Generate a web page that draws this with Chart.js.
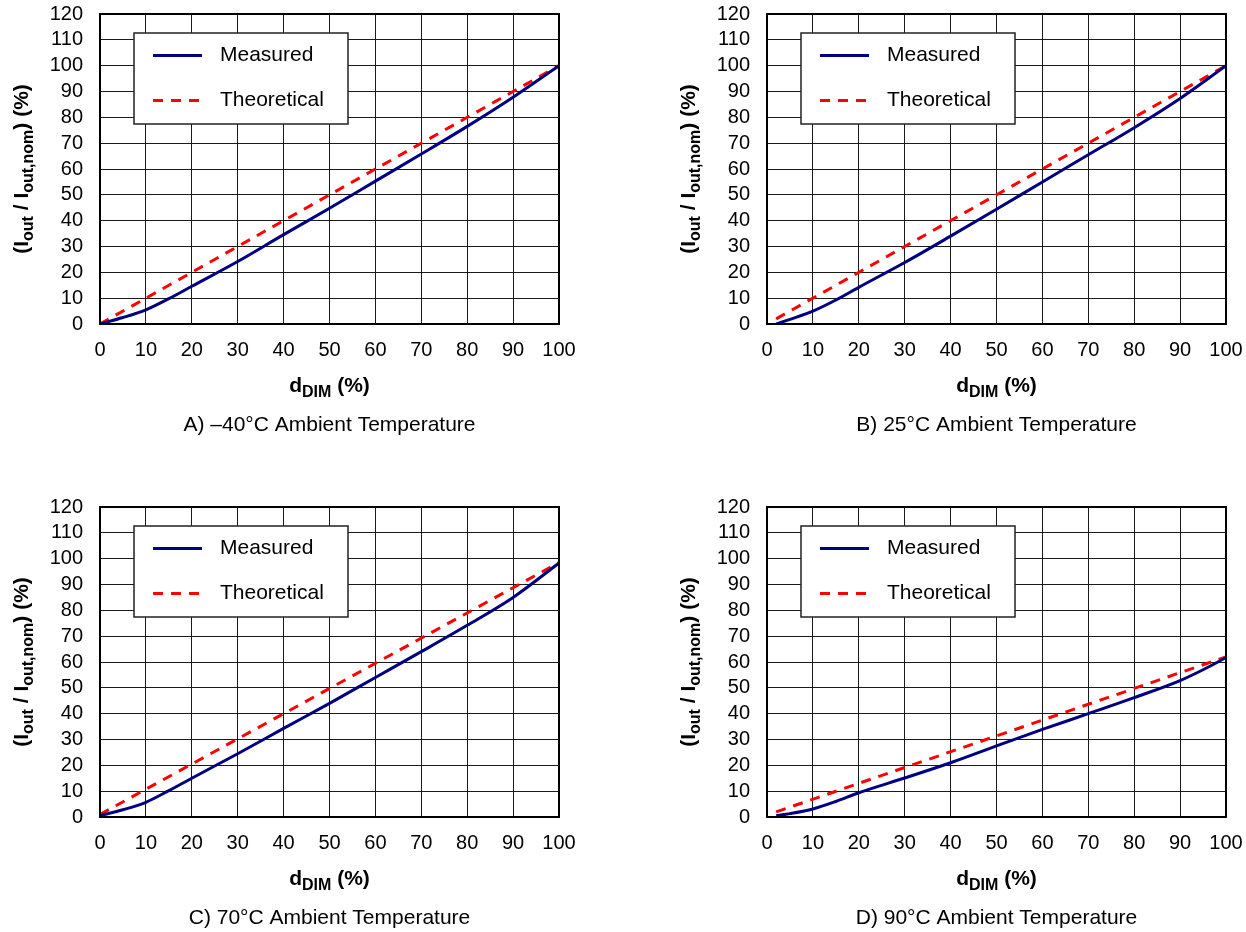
<!DOCTYPE html>
<html><head><meta charset="utf-8">
<script src="https://cdn.jsdelivr.net/npm/chart.js@4.4.0/dist/chart.umd.min.js"></script>
<style>
html,body{margin:0;padding:0;background:#fff;}
body{width:1246px;height:932px;position:relative;overflow:hidden;}
.panel{position:absolute;width:580px;height:466px;}
.panel canvas{display:block;}
</style></head><body>
<div class="panel" style="left:0;top:0"><canvas id="cA" width="580" height="466"></canvas></div>
<div class="panel" style="left:667px;top:0"><canvas id="cB" width="580" height="466"></canvas></div>
<div class="panel" style="left:0;top:493px"><canvas id="cC" width="580" height="466"></canvas></div>
<div class="panel" style="left:667px;top:493px"><canvas id="cD" width="580" height="466"></canvas></div>
<script>
// ---- data ----
const xTickValues = [0, 10, 20, 30, 40, 50, 60, 70, 80, 90, 100];
const yTickValues = [0, 10, 20, 30, 40, 50, 60, 70, 80, 90, 100, 110, 120];
const seriesNames = ['Measured', 'Theoretical'];

const dimA = [0, 5, 10, 15, 20, 30, 40, 50, 60, 70, 80, 90, 100];
const measA = [0, 2.5, 5.5, 9.8, 14.6, 24.2, 34.6, 44.8, 55.3, 65.8, 76.5, 87.8, 100];
const theoDimA = [0, 100];
const theoA = [0, 100];

const dimB = [2, 5, 10, 15, 20, 30, 40, 50, 60, 70, 80, 90, 100];
const measB = [0, 1.8, 5, 9.3, 14.2, 23.8, 34, 44.4, 55, 65.5, 76, 87.3, 100];
const theoDimB = [2, 100];
const theoB = [2, 100];

const dimC = [0, 5, 10, 15, 20, 30, 40, 50, 60, 70, 80, 90, 100];
const measC = [0.5, 2.8, 5.7, 10.2, 15, 24.5, 34.3, 44, 54, 64, 74.2, 85, 98.3];
const theoDimC = [0, 100];
const theoC = [1, 98.5];

const dimD = [2, 5, 10, 15, 20, 30, 40, 50, 60, 70, 80, 90, 95, 100];
const measD = [0.5, 1.3, 3.1, 6, 9.4, 15.1, 21, 27.5, 33.9, 40, 46.2, 52.8, 57, 61.7];
const theoDimD = [2, 100];
const theoD = [2, 62];

const captions = ['A) \u201340\u00B0C Ambient Temperature', 'B) 25\u00B0C Ambient Temperature',
                  'C) 70\u00B0C Ambient Temperature', 'D) 90\u00B0C Ambient Temperature'];

// ---- helpers ----
const FONT = "'Liberation Sans', Arial, Helvetica, sans-serif";
function pts(xs, ys) { return xs.map((x, i) => ({x: x, y: ys[i]})); }

function drawRich(ctx, parts, x, y, mainSize, subSize, subShift) {
  let total = 0;
  parts.forEach(p => {
    ctx.font = 'bold ' + (p.sub ? subSize : mainSize) + 'px ' + FONT;
    p.w = ctx.measureText(p.t).width; total += p.w;
  });
  let cx = x - total / 2;
  parts.forEach(p => {
    ctx.font = 'bold ' + (p.sub ? subSize : mainSize) + 'px ' + FONT;
    ctx.fillText(p.t, cx, y + (p.sub ? subShift : 0));
    cx += p.w;
  });
}

const decoPlugin = {
  id: 'deco',
  afterDraw(chart, args, opts) {
    const ctx = chart.ctx, a = chart.chartArea;
    ctx.save();
    // frame
    ctx.strokeStyle = '#000'; ctx.lineWidth = 2;
    ctx.strokeRect(a.left, a.top, a.right - a.left, a.bottom - a.top);
    // legend
    const lx = a.left + 34, ly = a.top + 19, lw = 214, lh = 91;
    ctx.fillStyle = '#fff'; ctx.fillRect(lx, ly, lw, lh);
    ctx.strokeStyle = '#222'; ctx.lineWidth = 1.5; ctx.strokeRect(lx, ly, lw, lh);
    const ds = chart.data.datasets;
    const rows = [ly + 22.5, ly + 67.5];
    ds.forEach((d, i) => {
      ctx.beginPath();
      ctx.strokeStyle = d.borderColor; ctx.lineWidth = 3;
      ctx.setLineDash(d.borderDash || []);
      ctx.moveTo(lx + 19, rows[i]); ctx.lineTo(lx + 68, rows[i]); ctx.stroke();
      ctx.setLineDash([]);
      ctx.fillStyle = '#000'; ctx.font = '21px ' + FONT;
      ctx.textAlign = 'left'; ctx.textBaseline = 'middle';
      ctx.fillText(d.label, lx + 86, rows[i]);
    });
    // axis titles
    ctx.fillStyle = '#000'; ctx.textAlign = 'left'; ctx.textBaseline = 'alphabetic';
    const cxm = (a.left + a.right) / 2;
    drawRich(ctx, [{t: 'd'}, {t: 'DIM', sub: true}, {t: ' (%)'}], cxm, a.bottom + 68, 21, 16, 5);
    ctx.save();
    ctx.translate(28, (a.top + a.bottom) / 2);
    ctx.rotate(-Math.PI / 2);
    drawRich(ctx, [{t: '(I'}, {t: 'out', sub: true}, {t: ' / I'}, {t: 'out,nom', sub: true}, {t: ') (%)'}], 0, 0, 21, 16, 5);
    ctx.restore();
    // caption
    ctx.font = '21px ' + FONT; ctx.textAlign = 'center';
    ctx.fillText(opts.caption, cxm, a.bottom + 107);
    ctx.restore();
  }
};

function zeroPad(s) { s.paddingTop = 0; s.paddingBottom = 0; s.paddingLeft = 0; s.paddingRight = 0; }

function makeChart(id, dimM, measM, dimT, theoT, caption) {
  new Chart(document.getElementById(id), {
    type: 'line',
    data: {
      datasets: [
        {label: seriesNames[0], data: pts(dimM, measM), borderColor: '#000080', borderWidth: 3,
         pointRadius: 0, cubicInterpolationMode: 'monotone', fill: false},
        {label: seriesNames[1], data: pts(dimT, theoT), borderColor: '#ff0000', borderWidth: 3,
         borderDash: [10, 8], pointRadius: 0, fill: false}
      ]
    },
    options: {
      responsive: false, animation: false,
      layout: {padding: {left: 0, top: 14, right: 21, bottom: 0}},
      plugins: {legend: {display: false}, tooltip: {enabled: false}, deco: {caption: caption}},
      scales: {
        x: {type: 'linear', min: 0, max: 100,
            afterBuildTicks: s => { s.ticks = xTickValues.map(v => ({value: v})); },
            afterFit: s => { s.height = 142; zeroPad(s); },
            grid: {color: '#1a1a1a', lineWidth: 1, drawTicks: false},
            border: {display: true, color: '#000', width: 2},
            ticks: {color: '#000', font: {family: FONT, size: 20}, padding: 14, maxRotation: 0, autoSkip: false}},
        y: {type: 'linear', min: 0, max: 120,
            afterBuildTicks: s => { s.ticks = yTickValues.map(v => ({value: v})); },
            afterFit: s => { s.width = 100; zeroPad(s); },
            grid: {color: '#1a1a1a', lineWidth: 1, drawTicks: false},
            border: {display: true, color: '#000', width: 2},
            ticks: {color: '#000', font: {family: FONT, size: 20}, padding: 17, autoSkip: false}}
      }
    },
    plugins: [decoPlugin]
  });
}

makeChart('cA', dimA, measA, theoDimA, theoA, captions[0]);
makeChart('cB', dimB, measB, theoDimB, theoB, captions[1]);
makeChart('cC', dimC, measC, theoDimC, theoC, captions[2]);
makeChart('cD', dimD, measD, theoDimD, theoD, captions[3]);
</script>
</body></html>
